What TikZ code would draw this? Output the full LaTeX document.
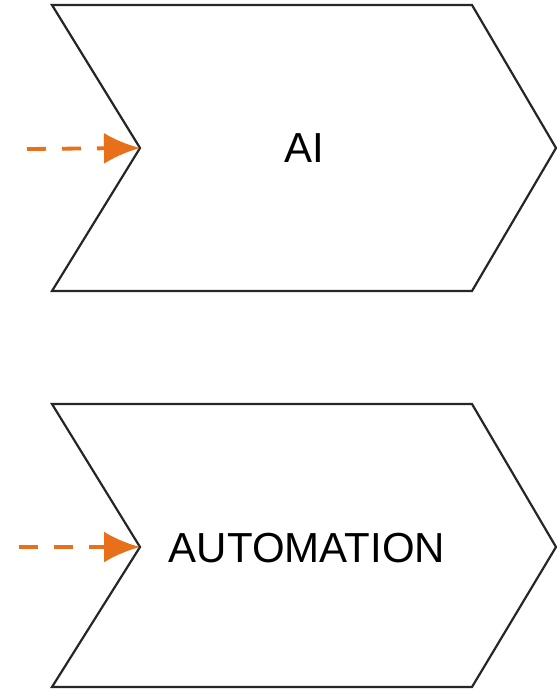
\documentclass[tikz,border=0pt]{standalone}
\usepackage{fontspec}
\setmainfont{Liberation Sans}
\usepackage{xcolor}
\usetikzlibrary{arrows.meta}
\definecolor{flowOrange}{RGB}{232,112,26}
\tikzset{
	chevron/.style={draw=black!85, line width=2.2pt, line join=miter},
	inflow/.style={flowOrange, line width=3.8pt, dash pattern=on 19pt off 16pt, -{Latex[length=36pt,width=31pt]}},
	label/.style={font=\fontsize{42}{42}\selectfont, inner sep=0pt}
}
\begin{document}
\begin{tikzpicture}[x=1pt,y=-1pt]
		\useasboundingbox (0,0) rectangle (557,689);
		%upper chevron
		\draw[chevron] (52,5) -- (472,5) -- (556,148) -- (472,291) -- (52,291) -- (140,148) coordinate (notchAI) -- cycle;
		%lower chevron
		\draw[chevron] (52,404) -- (472,404) -- (556,547) -- (472,687) -- (52,687) -- (140,547) coordinate (notchAuto) -- cycle;
		
		%incoming flows
		\coordinate (srcAI) at (27,149);
		\coordinate (srcAuto) at (19,547);
		\draw[inflow] (srcAI) -- (notchAI);
		\draw[inflow] (srcAuto) -- (notchAuto);
		
		%nodes
		\node[label] (ai) at (304,148) {AI};
		\node[label] (automation) at (307,548) {AUTOMATION};
	\end{tikzpicture}
\end{document}
